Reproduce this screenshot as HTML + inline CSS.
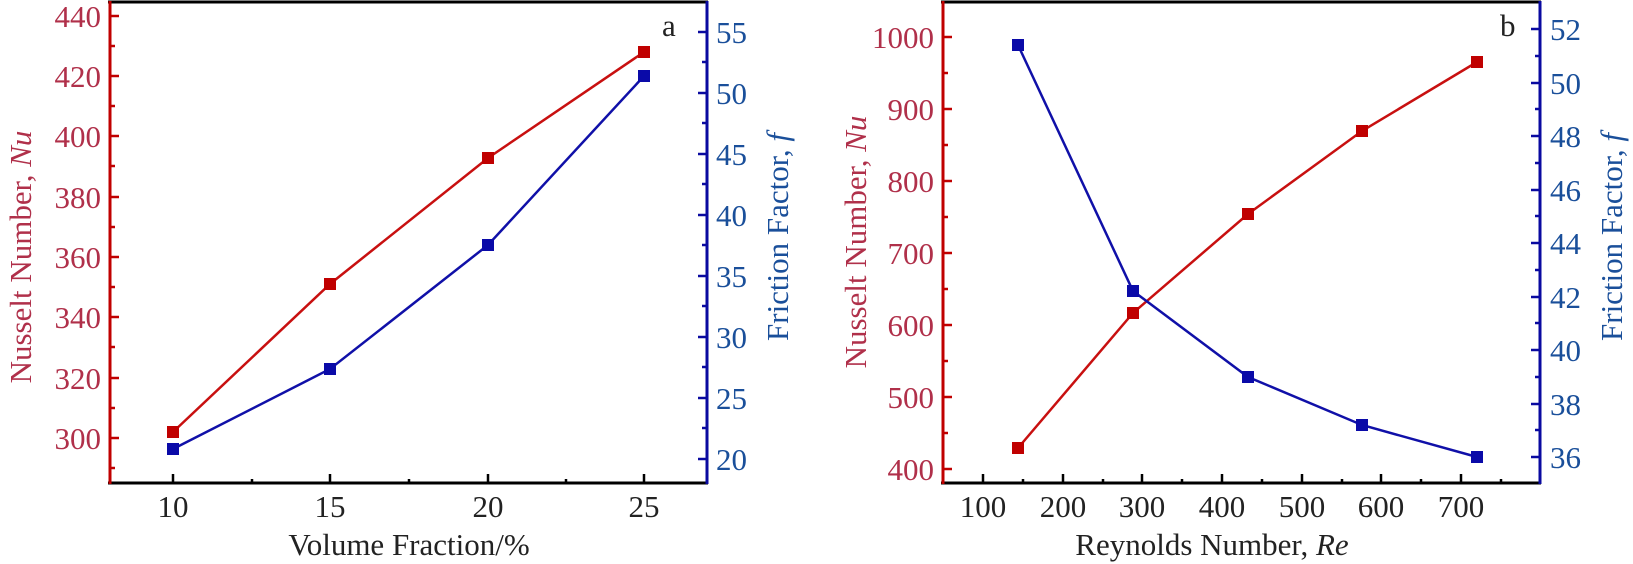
<!DOCTYPE html>
<html><head><meta charset="utf-8"><style>body{margin:0;background:#fff}svg{display:block}</style></head><body>
<svg xmlns="http://www.w3.org/2000/svg" width="1633" height="564" viewBox="0 0 1633 564" font-family="'Liberation Serif', serif">
<g id="a">
<line x1="108" y1="2" x2="708" y2="2" stroke="#000" stroke-width="3"/>
<line x1="108" y1="483" x2="708" y2="483" stroke="#000" stroke-width="3"/>
<line x1="110" y1="1" x2="110" y2="484" stroke="#c00000" stroke-width="3"/>
<line x1="707" y1="1" x2="707" y2="484" stroke="#0a0aa0" stroke-width="3"/>
<g stroke="#000" stroke-width="2.5">
<line x1="173" y1="483" x2="173" y2="474"/><line x1="330" y1="483" x2="330" y2="474"/><line x1="488" y1="483" x2="488" y2="474"/><line x1="644" y1="483" x2="644" y2="474"/>
<line x1="252" y1="483" x2="252" y2="479"/><line x1="409" y1="483" x2="409" y2="479"/><line x1="566" y1="483" x2="566" y2="479"/>
</g>
<g font-size="31" fill="#222" text-anchor="middle">
<text x="173" y="517">10</text><text x="330" y="517">15</text><text x="488" y="517">20</text><text x="644" y="517">25</text>
<text x="409" y="555">Volume Fraction/%</text>
</g>
<g stroke="#c00000" stroke-width="2.5">
<line x1="110" y1="16" x2="119" y2="16"/><line x1="110" y1="76" x2="119" y2="76"/><line x1="110" y1="136" x2="119" y2="136"/><line x1="110" y1="197" x2="119" y2="197"/><line x1="110" y1="257" x2="119" y2="257"/><line x1="110" y1="317" x2="119" y2="317"/><line x1="110" y1="378" x2="119" y2="378"/><line x1="110" y1="438" x2="119" y2="438"/>
<line x1="110" y1="46" x2="115" y2="46"/><line x1="110" y1="106" x2="115" y2="106"/><line x1="110" y1="166" x2="115" y2="166"/><line x1="110" y1="227" x2="115" y2="227"/><line x1="110" y1="287" x2="115" y2="287"/><line x1="110" y1="347" x2="115" y2="347"/><line x1="110" y1="408" x2="115" y2="408"/><line x1="110" y1="468" x2="115" y2="468"/>
</g>
<g font-size="31" fill="#b0304a" text-anchor="end">
<text x="101" y="27">440</text><text x="101" y="87">420</text><text x="101" y="147">400</text><text x="101" y="208">380</text><text x="101" y="268">360</text><text x="101" y="328">340</text><text x="101" y="389">320</text><text x="101" y="449">300</text>
</g>
<text transform="translate(31,257) rotate(-90)" font-size="31" fill="#b0304a" text-anchor="middle">Nusselt Number, <tspan font-style="italic">Nu</tspan></text>
<g stroke="#0a0aa0" stroke-width="2.5">
<line x1="698" y1="32" x2="707" y2="32"/><line x1="698" y1="93" x2="707" y2="93"/><line x1="698" y1="154" x2="707" y2="154"/><line x1="698" y1="215" x2="707" y2="215"/><line x1="698" y1="276" x2="707" y2="276"/><line x1="698" y1="337" x2="707" y2="337"/><line x1="698" y1="398" x2="707" y2="398"/><line x1="698" y1="459" x2="707" y2="459"/>
<line x1="702" y1="62" x2="707" y2="62"/><line x1="702" y1="123" x2="707" y2="123"/><line x1="702" y1="184" x2="707" y2="184"/><line x1="702" y1="245" x2="707" y2="245"/><line x1="702" y1="306" x2="707" y2="306"/><line x1="702" y1="367" x2="707" y2="367"/><line x1="702" y1="428" x2="707" y2="428"/>
</g>
<g font-size="31" fill="#1a4f9a">
<text x="716" y="43">55</text><text x="716" y="104">50</text><text x="716" y="165">45</text><text x="716" y="226">40</text><text x="716" y="287">35</text><text x="716" y="348">30</text><text x="716" y="409">25</text><text x="716" y="470">20</text>
</g>
<text transform="translate(788,237) rotate(-90)" font-size="31" fill="#1a4f9a" text-anchor="middle">Friction Factor, <tspan font-style="italic">f</tspan></text>
<text x="662" y="36" font-size="31" fill="#222">a</text>
<polyline points="173,432 330,284 488,158 644,52" fill="none" stroke="#c81010" stroke-width="2.5"/>
<polyline points="173,449 330,369 488,245 644,76" fill="none" stroke="#1010a8" stroke-width="2.5"/>
<g fill="#c00000"><rect x="167" y="426" width="12" height="12"/><rect x="324" y="278" width="12" height="12"/><rect x="482" y="152" width="12" height="12"/><rect x="638" y="46" width="12" height="12"/></g>
<g fill="#0a0aa8"><rect x="167" y="443" width="12" height="12"/><rect x="324" y="363" width="12" height="12"/><rect x="482" y="239" width="12" height="12"/><rect x="638" y="70" width="12" height="12"/></g>
</g>

<g id="b">
<line x1="941" y1="2" x2="1541" y2="2" stroke="#000" stroke-width="3"/>
<line x1="941" y1="483" x2="1541" y2="483" stroke="#000" stroke-width="3"/>
<line x1="943" y1="1" x2="943" y2="484" stroke="#c00000" stroke-width="3"/>
<line x1="1540" y1="1" x2="1540" y2="484" stroke="#0a0aa0" stroke-width="3"/>
<g stroke="#000" stroke-width="2.5">
<line x1="983" y1="483" x2="983" y2="474"/><line x1="1063" y1="483" x2="1063" y2="474"/><line x1="1142" y1="483" x2="1142" y2="474"/><line x1="1222" y1="483" x2="1222" y2="474"/><line x1="1302" y1="483" x2="1302" y2="474"/><line x1="1381" y1="483" x2="1381" y2="474"/><line x1="1461" y1="483" x2="1461" y2="474"/>
<line x1="1023" y1="483" x2="1023" y2="479"/><line x1="1103" y1="483" x2="1103" y2="479"/><line x1="1182" y1="483" x2="1182" y2="479"/><line x1="1262" y1="483" x2="1262" y2="479"/><line x1="1342" y1="483" x2="1342" y2="479"/><line x1="1421" y1="483" x2="1421" y2="479"/><line x1="1501" y1="483" x2="1501" y2="479"/>
</g>
<g font-size="31" fill="#222" text-anchor="middle">
<text x="983" y="517">100</text><text x="1063" y="517">200</text><text x="1142" y="517">300</text><text x="1222" y="517">400</text><text x="1302" y="517">500</text><text x="1381" y="517">600</text><text x="1461" y="517">700</text>
<text x="1212" y="555">Reynolds Number, <tspan font-style="italic">Re</tspan></text>
</g>
<g stroke="#c00000" stroke-width="2.5">
<line x1="943" y1="37" x2="952" y2="37"/><line x1="943" y1="109" x2="952" y2="109"/><line x1="943" y1="181" x2="952" y2="181"/><line x1="943" y1="253" x2="952" y2="253"/><line x1="943" y1="325" x2="952" y2="325"/><line x1="943" y1="397" x2="952" y2="397"/><line x1="943" y1="469" x2="952" y2="469"/>
<line x1="943" y1="73" x2="948" y2="73"/><line x1="943" y1="145" x2="948" y2="145"/><line x1="943" y1="217" x2="948" y2="217"/><line x1="943" y1="289" x2="948" y2="289"/><line x1="943" y1="361" x2="948" y2="361"/><line x1="943" y1="433" x2="948" y2="433"/>
</g>
<g font-size="31" fill="#b0304a" text-anchor="end">
<text x="934" y="48">1000</text><text x="934" y="120">900</text><text x="934" y="192">800</text><text x="934" y="264">700</text><text x="934" y="336">600</text><text x="934" y="408">500</text><text x="934" y="480">400</text>
</g>
<text transform="translate(866,242) rotate(-90)" font-size="31" fill="#b0304a" text-anchor="middle">Nusselt Number, <tspan font-style="italic">Nu</tspan></text>
<g stroke="#0a0aa0" stroke-width="2.5">
<line x1="1531" y1="29" x2="1540" y2="29"/><line x1="1531" y1="83" x2="1540" y2="83"/><line x1="1531" y1="136" x2="1540" y2="136"/><line x1="1531" y1="190" x2="1540" y2="190"/><line x1="1531" y1="243" x2="1540" y2="243"/><line x1="1531" y1="297" x2="1540" y2="297"/><line x1="1531" y1="350" x2="1540" y2="350"/><line x1="1531" y1="404" x2="1540" y2="404"/><line x1="1531" y1="457" x2="1540" y2="457"/>
<line x1="1535" y1="56" x2="1540" y2="56"/><line x1="1535" y1="109" x2="1540" y2="109"/><line x1="1535" y1="163" x2="1540" y2="163"/><line x1="1535" y1="216" x2="1540" y2="216"/><line x1="1535" y1="270" x2="1540" y2="270"/><line x1="1535" y1="323" x2="1540" y2="323"/><line x1="1535" y1="377" x2="1540" y2="377"/><line x1="1535" y1="430" x2="1540" y2="430"/>
</g>
<g font-size="31" fill="#1a4f9a">
<text x="1550" y="40">52</text><text x="1550" y="94">50</text><text x="1550" y="147">48</text><text x="1550" y="201">46</text><text x="1550" y="254">44</text><text x="1550" y="308">42</text><text x="1550" y="361">40</text><text x="1550" y="415">38</text><text x="1550" y="468">36</text>
</g>
<text transform="translate(1622,237) rotate(-90)" font-size="31" fill="#1a4f9a" text-anchor="middle">Friction Factor, <tspan font-style="italic">f</tspan></text>
<text x="1500" y="36" font-size="31" fill="#222">b</text>
<polyline points="1018,448 1133,313 1248,214 1362,131 1477,62" fill="none" stroke="#c81010" stroke-width="2.5"/>
<polyline points="1018,45 1133,291 1248,377 1362,425 1477,457" fill="none" stroke="#1010a8" stroke-width="2.5"/>
<g fill="#c00000"><rect x="1012" y="442" width="12" height="12"/><rect x="1127" y="307" width="12" height="12"/><rect x="1242" y="208" width="12" height="12"/><rect x="1356" y="125" width="12" height="12"/><rect x="1471" y="56" width="12" height="12"/></g>
<g fill="#0a0aa8"><rect x="1012" y="39" width="12" height="12"/><rect x="1127" y="285" width="12" height="12"/><rect x="1242" y="371" width="12" height="12"/><rect x="1356" y="419" width="12" height="12"/><rect x="1471" y="451" width="12" height="12"/></g>
</g>
</svg>
</body></html>
